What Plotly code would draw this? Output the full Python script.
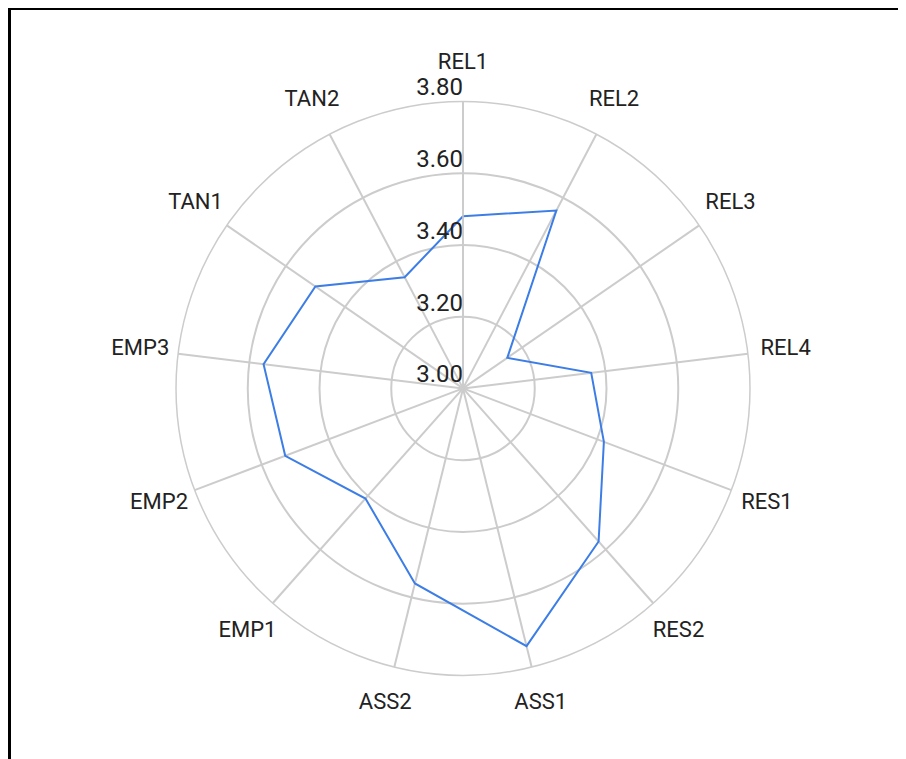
import plotly.graph_objects as go

categories = ["REL1", "REL2", "REL3", "REL4", "RES1", "RES2", "ASS1",
              "ASS2", "EMP1", "EMP2", "EMP3", "TAN1", "TAN2"]
scores = [3.48, 3.56, 3.15, 3.36, 3.42, 3.57, 3.74,
          3.56, 3.41, 3.53, 3.56, 3.50, 3.35]
radial_ticks = [3.00, 3.20, 3.40, 3.60, 3.80]

W, H = 906, 759
grid = "#cccccc"
cat_font = dict(family="Roboto", size=22, color="#222222")
tick_font = dict(family="Roboto", size=24, color="#222222")

# main polar: centre (455, 380.4) px in paper, outer ring radius 287 px
cx, cy, rad = 455, 380.4, 287
# label polar: same centre and scale, range widened to 3.95
rad2 = rad * 0.95 / 0.8

fig = go.Figure()
fig.add_trace(
    go.Scatterpolar(
        r=scores + scores[:1],
        theta=categories + categories[:1],
        mode="lines",
        line=dict(color="#3d7ee6", width=2),
        hoverinfo="skip",
        showlegend=False,
    )
)
# radial tick labels, up and left of each ring on the REL1 spoke
fig.add_trace(
    go.Scatterpolar(
        r=radial_ticks,
        theta=[categories[0]] * len(radial_ticks),
        mode="text",
        text=["%.2f" % v for v in radial_ticks],
        textposition="top left",
        textfont=tick_font,
        cliponaxis=False,
        hoverinfo="skip",
        showlegend=False,
    )
)
# category labels centred just outside the outer ring
fig.add_trace(
    go.Scatterpolar(
        r=[3.906] * len(categories),
        theta=categories,
        mode="text",
        text=categories,
        textposition="middle center",
        textfont=cat_font,
        cliponaxis=False,
        hoverinfo="skip",
        showlegend=False,
        subplot="polar2",
    )
)

fig.update_layout(
    width=W,
    height=H,
    margin=dict(l=0, r=0, t=0, b=0),
    paper_bgcolor="white",
    plot_bgcolor="white",
    polar=dict(
        domain=dict(x=[(cx - rad) / W, (cx + rad) / W],
                    y=[1 - (cy + rad) / H, 1 - (cy - rad) / H]),
        bgcolor="white",
        radialaxis=dict(
            range=[3.0, 3.8],
            tickvals=radial_ticks,
            angle=90,
            showticklabels=False,
            showline=True,
            linecolor=grid,
            linewidth=1.5,
            gridcolor=grid,
            gridwidth=1.5,
            ticks="",
        ),
        angularaxis=dict(
            direction="clockwise",
            rotation=90,
            showticklabels=False,
            linecolor=grid,
            linewidth=1.5,
            gridcolor=grid,
            gridwidth=1.5,
            ticks="",
        ),
    ),
    polar2=dict(
        domain=dict(x=[(cx - rad2) / W, (cx + rad2) / W],
                    y=[1 - (cy + rad2) / H, 1 - (cy - rad2) / H]),
        bgcolor="rgba(0,0,0,0)",
        radialaxis=dict(range=[3.0, 3.95], visible=False),
        angularaxis=dict(
            direction="clockwise",
            rotation=90,
            visible=False,
        ),
    ),
    shapes=[
        dict(type="rect", xref="paper", yref="paper",
             x0=1.5 / W, x1=1.02, y0=-0.02, y1=1 - 0.5 / H,
             line=dict(color="black", width=3)),
    ],
)

fig.write_html("out.html")
